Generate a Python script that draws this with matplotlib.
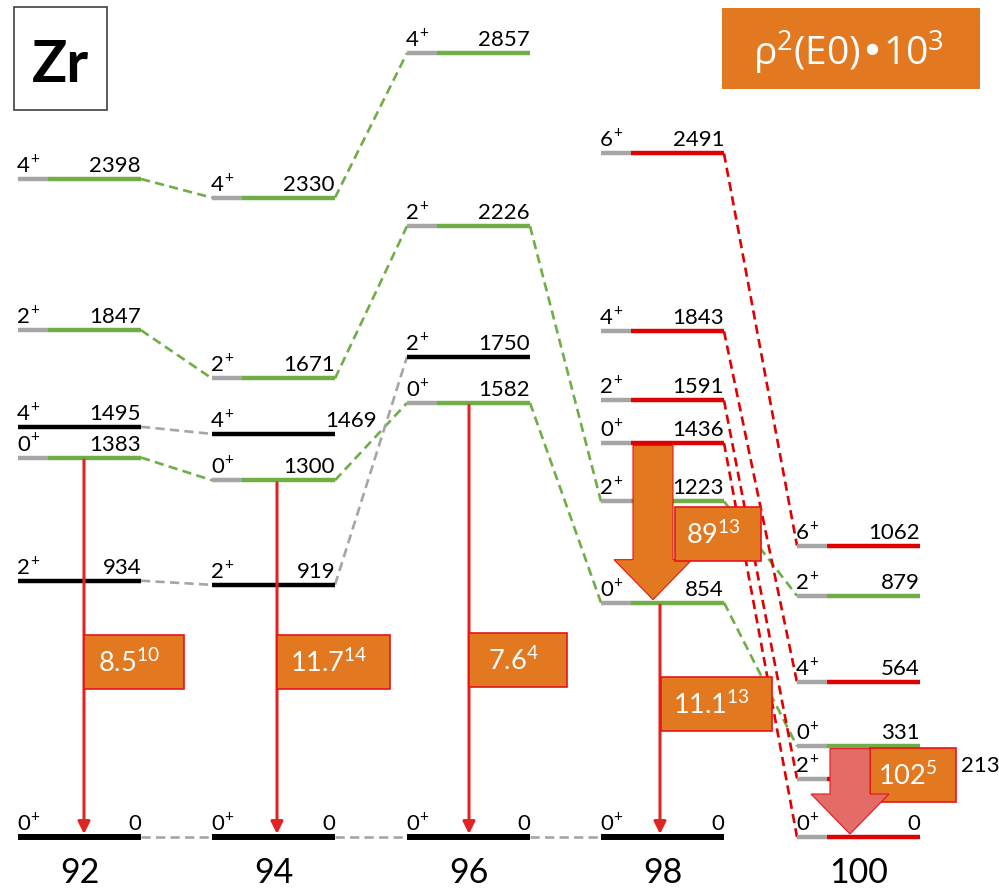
import matplotlib
matplotlib.use("Agg")
import matplotlib.pyplot as plt
from matplotlib.patches import Polygon, Rectangle

# Level energies (keV), spins and band colour: g = green band, r = red band, k = other
MASSES = [92, 94, 96, 98, 100]
LEVELS_92 = [(0, "0", "k"), (934, "2", "k"), (1383, "0", "g"), (1495, "4", "k"),
             (1847, "2", "g"), (2398, "4", "g")]
LEVELS_94 = [(0, "0", "k"), (919, "2", "k"), (1300, "0", "g"), (1469, "4", "k"),
             (1671, "2", "g"), (2330, "4", "g")]
LEVELS_96 = [(0, "0", "k"), (1582, "0", "g"), (1750, "2", "k"), (2226, "2", "g"),
             (2857, "4", "g")]
LEVELS_98 = [(0, "0", "k"), (854, "0", "g"), (1223, "2", "g"), (1436, "0", "r"),
             (1591, "2", "r"), (1843, "4", "r"), (2491, "6", "r")]
LEVELS_100 = [(0, "0", "r"), (213, "2", "r"), (331, "0", "g"), (564, "4", "r"),
              (879, "2", "g"), (1062, "6", "r")]
LEVELS = dict(zip(MASSES, [LEVELS_92, LEVELS_94, LEVELS_96, LEVELS_98, LEVELS_100]))

# Chains of levels joined by dashed lines
GREEN_LINKS = [
    [(92, 2398), (94, 2330), (96, 2857)],
    [(92, 1847), (94, 1671), (96, 2226), (98, 1223), (100, 879)],
    [(92, 1383), (94, 1300), (96, 1582), (98, 854), (100, 331)],
]
GRAY_LINKS = [
    [(92, 1495), (94, 1469)],
    [(92, 934), (94, 919), (96, 1750)],
    [(92, 0), (94, 0), (96, 0), (98, 0)],
]
RED_LINKS = [
    [(98, 2491), (100, 1062)],
    [(98, 1843), (100, 564)],
    [(98, 1591), (100, 213)],
    [(98, 1436), (100, 0)],
]

# E0 transitions: rho^2(E0) x 10^3 with uncertainty in last digits
E0_MASS = [92, 94, 96, 98, 98, 100]
E0_FROM = [1383, 1300, 1582, 854, 1436, 331]
E0_TO = [0, 0, 0, 0, 854, 0]
E0_VALUE = ["8.5", "11.7", "7.6", "11.1", "89", "102"]
E0_ERR = ["10", "14", "4", "13", "13", "5"]

# ---- layout (pixels) ----
W, H, DPI = 999, 888, 100
Y0 = 837            # pixel row of the ground state
SCALE = 0.2744      # pixels per keV
COL_X = {92: 18, 94: 212, 96: 407, 98: 601, 100: 797}
LEVEL_W = 123
STUB_W = 30
LABEL_SHIFT = {(94, 1469): 42, (100, 213): 80}
E0_X = [84, 277, 469, 660, 653, 850]
E0_BLOCK = [False, False, False, False, True, True]
BOX_LEFT = [84, 277, 469, 661, 675, 870]
BOX_W = [100, 113, 98, 111, 86, 86]
BOX_ROW = [662, 662, 660, 704, 534, 775]
BOX_H = 54

GREEN = "#70AD47"
RED = "#E00000"
GRAY = "#A5A5A5"
ORANGE = "#E2781F"
BOX_EDGE = "#E8141A"
PINK = "#E46C66"
LINE_COLOR = {"g": GREEN, "r": RED, "k": "black"}


def px(dy):
    """Convert a vertical pixel distance to keV."""
    return dy / SCALE


def row_to_e(row):
    return (Y0 - row) / SCALE


plt.rcParams["font.family"] = ["Lato", "DejaVu Sans"]

fig = plt.figure(figsize=(W / DPI, H / DPI), dpi=DPI)
ax = fig.add_axes([0, 0, 1, 1])
ax.set_xlim(0, W)
ax.set_ylim(row_to_e(H), row_to_e(0))
ax.axis("off")

# levels
for mass in MASSES:
    x0 = COL_X[mass]
    for energy, spin, kind in LEVELS[mass]:
        lw = 4.3 if (energy == 0 and kind == "k") else 3.2
        if kind == "k":
            ax.plot([x0, x0 + LEVEL_W], [energy, energy], color="black", lw=lw,
                    solid_capstyle="butt", zorder=3)
        else:
            ax.plot([x0, x0 + STUB_W], [energy, energy], color=GRAY, lw=lw,
                    solid_capstyle="butt", zorder=3)
            ax.plot([x0 + STUB_W, x0 + LEVEL_W], [energy, energy],
                    color=LINE_COLOR[kind], lw=lw, solid_capstyle="butt", zorder=3)
        ybase = energy + px(7)
        ax.text(x0 - 1, ybase, spin, fontsize=16, ha="left", va="baseline", zorder=6)
        ax.annotate("+", xy=(x0 - 1, ybase), xytext=(9.4, 6.5),
                    textcoords="offset points", fontsize=11, ha="left",
                    va="baseline", zorder=6)
        shift = LABEL_SHIFT.get((mass, energy), 0)
        ax.text(x0 + LEVEL_W + shift, ybase, str(energy), fontsize=16,
                ha="right", va="baseline", zorder=6)
    ax.text(x0 + LEVEL_W / 2, row_to_e(883), str(mass), fontsize=24.5,
            ha="center", va="baseline")

# dashed connections between isotopes
for links, color in ((GREEN_LINKS, GREEN), (GRAY_LINKS, GRAY), (RED_LINKS, RED)):
    for chain in links:
        for (m1, e1), (m2, e2) in zip(chain[:-1], chain[1:]):
            ax.plot([COL_X[m1] + LEVEL_W, COL_X[m2]], [e1, e2], color=color, lw=1.9,
                    dashes=(3.5, 2), zorder=2)

# E0 transitions with value boxes
for i, mass in enumerate(E0_MASS):
    xc = E0_X[i]
    top = E0_FROM[i] - px(2.5)
    tip = E0_TO[i] + px(3)
    if E0_BLOCK[i]:
        face = ORANGE if mass == 98 else PINK
        head = tip + px(40)
        verts = [(xc - 20, top), (xc + 20, top), (xc + 20, head), (xc + 39, head),
                 (xc, tip), (xc - 39, head), (xc - 20, head)]
        ax.add_patch(Polygon(verts, closed=True, facecolor=face, edgecolor=BOX_EDGE,
                             lw=0.8, zorder=5 if mass == 100 else 4))
    else:
        ax.annotate("", xy=(xc, tip), xytext=(xc, top),
                    arrowprops=dict(arrowstyle="-|>,head_length=0.6,head_width=0.3",
                                    color="#E02424", lw=2.2, shrinkA=0, shrinkB=0,
                                    mutation_scale=12),
                    zorder=4)
    bx, bw = BOX_LEFT[i], BOX_W[i]
    by = row_to_e(BOX_ROW[i] + BOX_H / 2)
    ax.add_patch(Rectangle((bx, by), bw, px(BOX_H), facecolor=ORANGE,
                           edgecolor=BOX_EDGE, lw=1.2, zorder=4.5))
    ax.text(bx + bw / 2 - 5, row_to_e(BOX_ROW[i] + 10),
            rf"$\mathregular{{{E0_VALUE[i]}^{{{E0_ERR[i]}}}}}$",
            fontsize=19.5, color="white", ha="center", va="baseline", zorder=6)

# element tag and quantity legend
ax.add_patch(Rectangle((14, row_to_e(110)), 93, px(103), facecolor="white",
                       edgecolor="#3F3F3F", lw=1.2, zorder=5))
ax.text(60, row_to_e(82), "Zr", fontsize=42, fontweight="bold", ha="center",
        va="baseline", zorder=6)

ax.add_patch(Rectangle((722, row_to_e(89)), 258, px(81), facecolor=ORANGE,
                       edgecolor="none", zorder=5))
ax.text(848, row_to_e(66), r"$\mathregular{ρ^2(E0)•10^3}$", fontsize=28,
        family=["Open Sans", "DejaVu Sans"], color="white", ha="center",
        va="baseline", zorder=6)

fig.savefig("out.png", dpi=DPI)
